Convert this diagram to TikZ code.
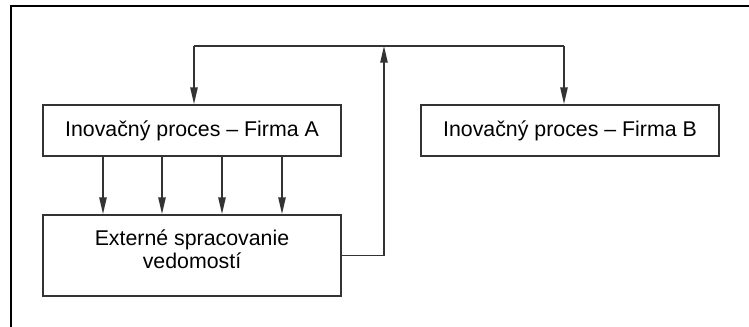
\documentclass[tikz,border=0pt]{standalone}
\usepackage{fontspec}
\setmainfont{Liberation Sans}
\usetikzlibrary{arrows.meta}
\definecolor{linegray}{HTML}{333333}
\begin{document}
\begin{tikzpicture}[x=0.75pt,y=-0.75pt,
  box/.style={draw=linegray, line width=1.4pt, rectangle, minimum width=223.5pt, inner sep=0pt, align=center, font=\fontsize{16pt}{17pt}\selectfont},
  conn/.style={draw=linegray, line width=1.1pt},
  arr/.style={conn, -{Triangle[length=12.5pt,width=5.5pt]}}]
\useasboundingbox (0,0) rectangle (749,327);
\draw[line width=1.6pt] (11,327) -- (11,6) -- (749,6);

\node[box, minimum height=38.25pt] (A) at (192,130.5) {Inovačný proces – Firma A};
\node[box, minimum height=38.25pt] (B) at (570,130.5) {Inovačný proces – Firma B};
\node[box, minimum height=60.75pt] (E) at (192,255.5) {Externé spracovanie\\[0pt]vedomostí\\[-12.5pt]\strut};

\coordinate (tl) at (194,46);
\coordinate (tm) at (384,46);
\coordinate (tr) at (564,46);

\draw[conn] (tl) -- (tr);
\draw[arr] (tl) -- (tl |- A.north);
\draw[arr] (tr) -- (tr |- B.north);
\draw[arr] (E.east) -| (tm);

\foreach \x in {103,162,222,282}
  \draw[arr] (A.south -| \x,0) -- (E.north -| \x,0);
\end{tikzpicture}
\end{document}
